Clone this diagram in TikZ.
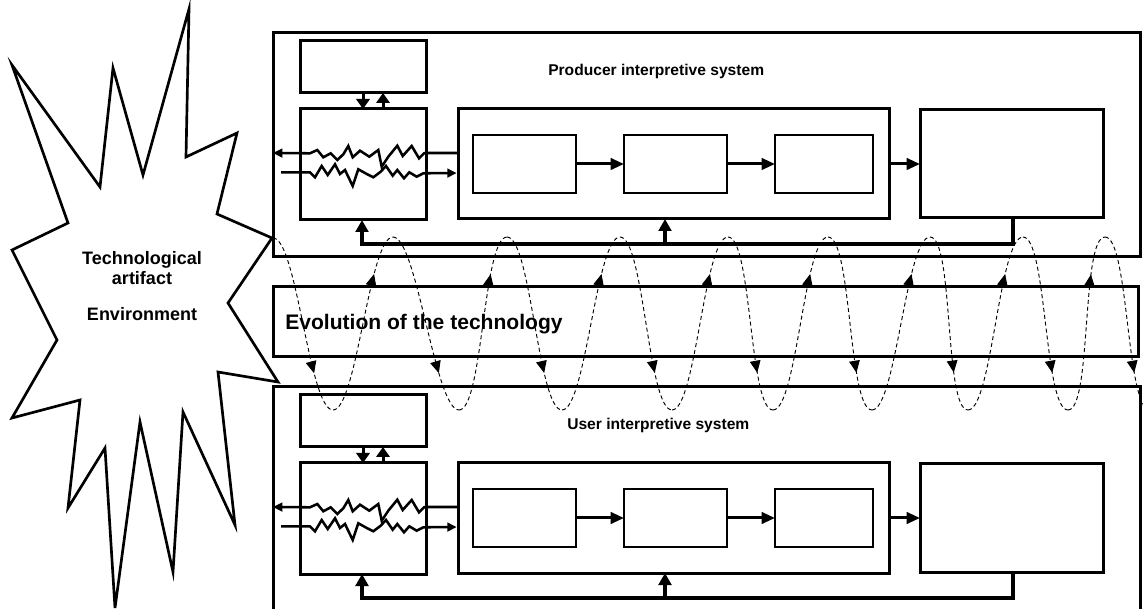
\documentclass[tikz,border=0pt]{standalone}
\usepackage{fontspec}
\setmainfont{Liberation Sans}
\usetikzlibrary{arrows.meta,decorations.markings}

\def\px{0.75pt}
\tikzset{box:size/.style 2 args={minimum width=#1*\px,minimum height=#2*\px}}
\tikzset{box:style/.style={draw,line width=2.25pt,inner sep=0,outer sep=0,anchor=north west}}
\tikzset{stage:style/.style={draw,line width=1.5pt,inner sep=0,outer sep=0,anchor=north west}}
\tikzset{flow:style/.style={draw,line width=2.25pt,-{Triangle[length=10pt,width=8.5pt]}}}
\tikzset{link:style/.style={draw,line width=2.25pt,-{Triangle[length=7.5pt,width=10pt]}}}
\tikzset{back:style/.style={draw,line width=2.6pt,line join=miter,-{Triangle[length=9pt,width=9.5pt]}}}
\tikzset{zig:style/.style={draw,line width=1.9pt,line join=miter,-{Triangle[length=7pt,width=6.5pt]}}}
\tikzset{env:style/.style={draw,line width=2pt,line join=miter}}
\tikzset{wave:style/.style={draw,line width=0.7pt,dash pattern=on 3pt off 2.2pt,
  decoration={markings,mark=at position 0.77 with {\arrow{Triangle[length=9pt,width=8pt]}}},
  postaction={decorate}}}
\tikzset{title:style/.style={font=\bfseries\fontsize{11.7}{14}\selectfont,anchor=west,inner sep=0}}
\def\waveout{24}

\begin{document}
\begin{tikzpicture}[x=0.75pt,y=-0.75pt]
	\useasboundingbox (0,0) rectangle (1143,609);
	
	% environment burst
	\draw[env:style] (12,65) -- (100,187) -- (113,68) -- (143,175) -- (189,9) -- (186,157)
		-- (237,133) -- (217,214) -- (272,238) -- (228,303) -- (278,382) -- (218,372)
		-- (235,525) -- (183,412) -- (173,572) -- (140,422) -- (115,608) -- (105,448)
		-- (68,508) -- (80,400) -- (12,418) -- (57,340) -- (12,250) -- (68,223) -- cycle;
	\node[align=center,inner sep=0,font=\bfseries\fontsize{13.5}{15}\selectfont] (envtext) at (142,286)
		{Technological\\artifact\\[12.5pt]Environment};
	
	% evolution band
	\node[box:style,box:size={865}{70}] (evol) at (273,287) {};
	\node[title:style,font=\bfseries\fontsize{15.8}{18}\selectfont] (evoltext) at (285,324) {Evolution of the technology};
	
	% the two interpretive systems
	\foreach \sys/\dy/\tx/\title in {P/0/548/Producer interpretive system,U/354/567/User interpretive system}{
	\begin{scope}[shift={(0,\dy)}]
		\node[box:style,box:size={867}{224}] (frame\sys) at (273,33) {};
		\node[title:style] (title\sys) at (\tx,71) {\title};
		
		\node[box:style,box:size={126}{52}] (info\sys) at (300,41) {};
		\node[box:style,box:size={126}{111}] (filter\sys) at (300,109) {};
		\node[box:style,box:size={431}{110}] (proc\sys) at (458,109) {};
		\node[stage:style,box:size={103}{58}] (stA\sys) at (473,135) {};
		\node[stage:style,box:size={103}{58}] (stB\sys) at (624,135) {};
		\node[stage:style,box:size={98}{58}] (stC\sys) at (775,135) {};
		\node[box:style,box:size={183}{108}] (out\sys) at (920,110) {};
		
		\path[flow:style] (stA\sys) -- (stB\sys);
		\path[flow:style] (stB\sys) -- (stC\sys);
		\path[flow:style] (proc\sys) -- (out\sys);
		
		\path[link:style] ([xshift=63*\px]info\sys.south west) -- ([xshift=63*\px]filter\sys.north west);
		\path[link:style] ([xshift=83*\px]filter\sys.north west) -- ([xshift=83*\px]info\sys.south west);
		
		% feedback
		\coordinate (fb\sys) at (362,244);
		\coordinate (br\sys) at (665,244);
		\path[back:style] ([xshift=93*\px]out\sys.south west) |- (fb\sys) -- (fb\sys |- filter\sys.south);
		\path[back:style] (br\sys) -- (br\sys |- proc\sys.south);
		
		% interpretation filter
		\coordinate (zu\sys) at (0,153);
		\coordinate (zs\sys) at (281,172.3);
		\coordinate (zl\sys) at (0,173);
		\path[zig:style] (proc\sys.west |- zu\sys) -- (426,153) -- (424,153.3) -- (419,158.3)
			-- (411.7,146) -- (402.7,156) -- (397.3,145.7) -- (388.3,156.7) -- (381.7,166.7)
			-- (378.3,150) -- (369.3,156.7) -- (360,150.7) -- (352.7,157.3) -- (348.3,146)
			-- (343.3,154.3) -- (337.3,160) -- (330.7,153.3) -- (323.3,157.3) -- (317.3,150)
			-- (310,153.3) -- (frame\sys.west |- zu\sys);
		\path[zig:style,shorten >=1pt] (zs\sys) -- (310,172.3) -- (315,177.3) -- (321.7,166)
			-- (327.7,175) -- (335,164.3) -- (340,174) -- (345,170) -- (352.7,186)
			-- (358.3,169.3) -- (367.3,174.3) -- (373.3,177.3) -- (380.7,171.7) -- (386,166)
			-- (392.7,175.7) -- (397.3,170) -- (404,178.3) -- (409.3,172.3) -- (416.7,176.7)
			-- (423.3,173.3) -- (proc\sys.west |- zl\sys);
	\end{scope}
	}
	
	% co-evolution wave
	\foreach \x/\y [count=\i] in {273/238,333/410,393/237,459/410,507/237,562/410,620/237,
		672/410,728/237,773/410,828/237,872/410,930/237,968/410,1023/237,1068/410,1105/237,1150/410}
		\coordinate (w\i) at (\x,\y);
	\foreach \i [count=\j from 2] in {1,...,17}
		\path[wave:style] (w\i) .. controls +(\waveout,0) and +(-\waveout,0) .. (w\j);
	
\end{tikzpicture}
\end{document}
